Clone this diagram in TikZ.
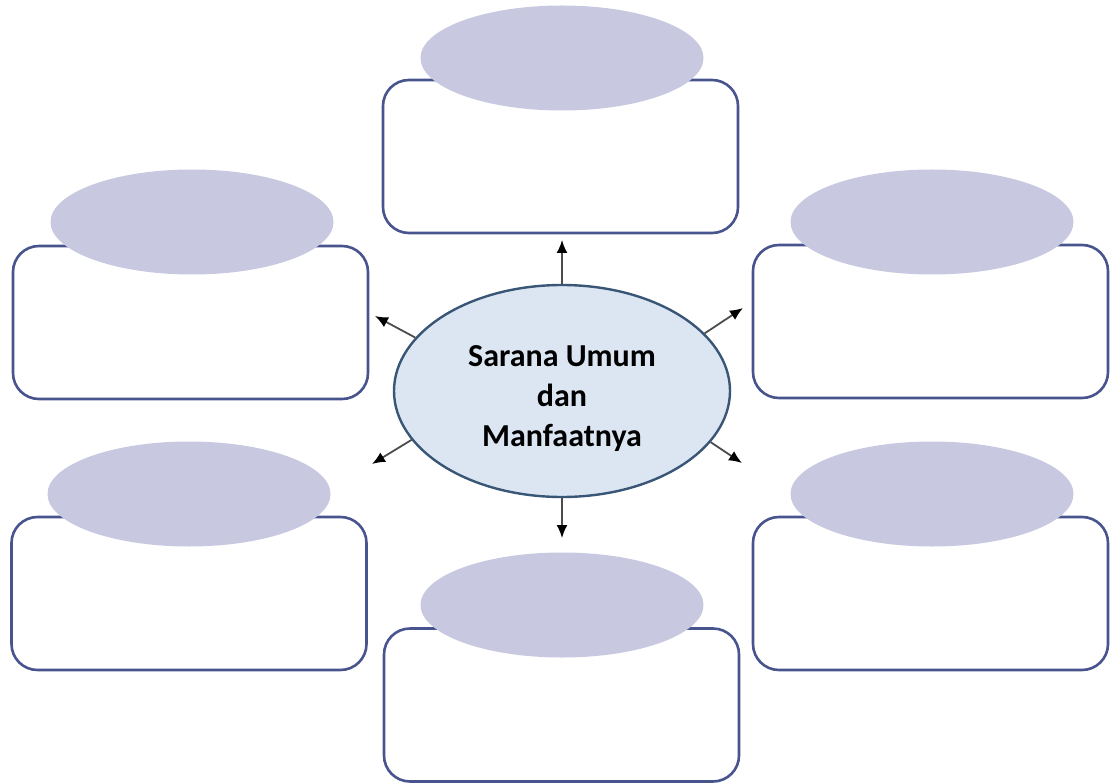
\documentclass[tikz,border=0pt]{standalone}
\usepackage{fontspec}
\setmainfont{Carlito}
\usepackage{tikz}
\usetikzlibrary{arrows.meta}
\usetikzlibrary{shapes.geometric}
\definecolor{boxline}{RGB}{72,84,142}
\definecolor{ovalfill}{RGB}{200,200,224}
\definecolor{hubfill}{RGB}{220,230,242}
\definecolor{hubline}{RGB}{58,86,118}
\tikzset{infobox/.style = {draw = boxline, fill = white, line width = 2.6pt,
                           rounded corners = 26pt, minimum width = 355pt,
                           minimum height = 153pt}}
\tikzset{headoval/.style = {ellipse, fill = ovalfill, minimum width = 283pt,
                            minimum height = 105pt, inner sep = 0}}
\tikzset{hub/.style = {ellipse, draw = hubline, fill = hubfill, line width = 2.4pt,
                       minimum width = 336pt, minimum height = 212pt, inner sep = 0}}
\tikzset{hubtext/.style = {align = center, inner sep = 0,
                           font = \bfseries\fontsize{32}{40}\selectfont}}
\tikzset{spoke/.style = {draw = black!70, line width = 1.8pt,
                         -{Latex[length = 13pt, width = 11pt, color = black]}}}

\begin{document}
\begin{tikzpicture}[x = 1pt, y = -1pt]
      \useasboundingbox (0, 0) rectangle (1115, 783);

      \node [infobox] (boxtop) at (560.5, 156.5) {};
      \node [infobox] (boxnw) at (190.5, 322.5) {};
      \node [infobox] (boxne) at (930.5, 321.5) {};
      \node [infobox] (boxsw) at (189, 593.5) {};
      \node [infobox] (boxse) at (930.5, 593.5) {};
      \node [infobox] (boxbottom) at (561.5, 705) {};

      \node [headoval] (ovaltop) at (562, 58) {};
      \node [headoval] (ovalnw) at (192, 222) {};
      \node [headoval] (ovalne) at (932, 222) {};
      \node [headoval] (ovalsw) at (189, 494) {};
      \node [headoval] (ovalse) at (932, 494) {};
      \node [headoval] (ovalbottom) at (562, 605) {};

      \node [hub] (hub) at (562, 391) {};
      \node [hubtext] (hublabel) at (562, 399) {Sarana Umum\\dan\\Manfaatnya};

      \coordinate (tiptop) at (562, 240);
      \coordinate (tipnw) at (375, 316);
      \coordinate (tipne) at (743, 308);
      \coordinate (tipsw) at (372, 464);
      \coordinate (tipse) at (742, 463);
      \coordinate (tipbottom) at (562, 538);

      \draw [spoke] (hub.north) -- (tiptop);
      \draw [spoke] (hub.160) -- (tipnw);
      \draw [spoke] (hub.22) -- (tipne);
      \draw [spoke] (hub.198) -- (tipsw);
      \draw [spoke] (hub.341) -- (tipse);
      \draw [spoke] (hub.south) -- (tipbottom);
    \end{tikzpicture}
\end{document}
